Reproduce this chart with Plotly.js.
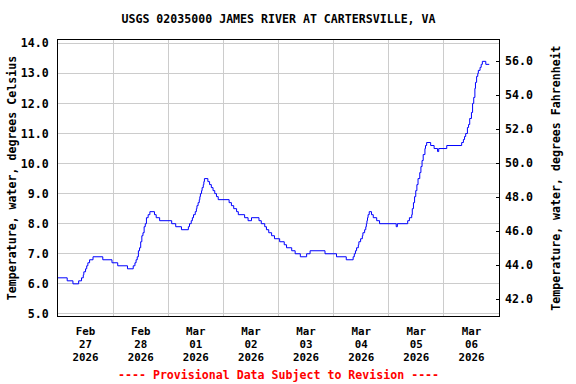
<!DOCTYPE html>
<html>
<head>
<meta charset="utf-8">
<script src="https://cdn.plot.ly/plotly-3.0.1.min.js"></script>
<style>
  html, body { margin: 0; padding: 0; background: #ffffff; }
  #chart { width: 576px; height: 384px; }
</style>
</head>
<body>
<div id="chart"></div>
<script>
// ---- Data ----
const chartTitle = "USGS 02035000 JAMES RIVER AT CARTERSVILLE, VA";
const leftAxisTitle = "Temperature, water, degrees Celsius";
const rightAxisTitle = "Temperature, water, degrees Fahrenheit";
const footerText = "---- Provisional Data Subject to Revision ----";

const times = [
  "2026-02-27 00:00","2026-02-27 04:00","2026-02-27 06:30","2026-02-27 09:00","2026-02-27 10:15",
  "2026-02-27 11:00","2026-02-27 11:15","2026-02-27 12:00","2026-02-27 12:30","2026-02-27 13:00",
  "2026-02-27 13:45","2026-02-27 15:15","2026-02-27 19:30","2026-02-27 23:30",
  "2026-02-28 02:00","2026-02-28 06:15","2026-02-28 08:45","2026-02-28 09:30","2026-02-28 10:00",
  "2026-02-28 10:30","2026-02-28 11:00","2026-02-28 11:30","2026-02-28 12:00","2026-02-28 12:30",
  "2026-02-28 13:00","2026-02-28 13:30","2026-02-28 14:00","2026-02-28 14:30","2026-02-28 15:15",
  "2026-02-28 16:00","2026-02-28 18:00","2026-02-28 18:45","2026-02-28 20:15",
  "2026-03-01 01:30","2026-03-01 03:15","2026-03-01 05:45","2026-03-01 08:45","2026-03-01 09:15",
  "2026-03-01 10:00","2026-03-01 10:30","2026-03-01 11:00","2026-03-01 11:45","2026-03-01 12:15",
  "2026-03-01 12:30","2026-03-01 13:00","2026-03-01 13:30","2026-03-01 13:45","2026-03-01 14:00",
  "2026-03-01 14:30","2026-03-01 14:45","2026-03-01 15:15","2026-03-01 15:30","2026-03-01 15:45",
  "2026-03-01 17:15","2026-03-01 18:00","2026-03-01 18:45","2026-03-01 19:30","2026-03-01 20:15",
  "2026-03-01 21:00","2026-03-01 21:45",
  "2026-03-02 02:30","2026-03-02 03:30","2026-03-02 04:30","2026-03-02 05:45","2026-03-02 06:30",
  "2026-03-02 09:15","2026-03-02 10:45","2026-03-02 12:15","2026-03-02 15:30","2026-03-02 16:30",
  "2026-03-02 18:00","2026-03-02 18:45","2026-03-02 19:45","2026-03-02 21:00","2026-03-02 22:15",
  "2026-03-03 00:30","2026-03-03 02:30","2026-03-03 03:30","2026-03-03 05:45","2026-03-03 07:15",
  "2026-03-03 09:30","2026-03-03 12:15","2026-03-03 13:45","2026-03-03 20:15",
  "2026-03-04 01:15","2026-03-04 05:30","2026-03-04 08:30","2026-03-04 09:00","2026-03-04 09:30",
  "2026-03-04 10:00","2026-03-04 10:45","2026-03-04 11:00","2026-03-04 11:45","2026-03-04 12:30",
  "2026-03-04 12:45","2026-03-04 13:30","2026-03-04 14:00","2026-03-04 14:15","2026-03-04 14:30",
  "2026-03-04 14:45","2026-03-04 15:00","2026-03-04 15:30","2026-03-04 16:30","2026-03-04 17:15",
  "2026-03-04 18:45","2026-03-04 20:00",
  "2026-03-05 03:15","2026-03-05 03:45","2026-03-05 08:15","2026-03-05 09:00","2026-03-05 10:00",
  "2026-03-05 10:15","2026-03-05 10:45","2026-03-05 11:15","2026-03-05 11:45","2026-03-05 12:15",
  "2026-03-05 12:45","2026-03-05 13:30","2026-03-05 14:00","2026-03-05 14:30","2026-03-05 15:00",
  "2026-03-05 15:45","2026-03-05 16:00","2026-03-05 16:30","2026-03-05 18:15","2026-03-05 19:45",
  "2026-03-05 21:15","2026-03-05 21:45",
  "2026-03-06 01:15","2026-03-06 07:45","2026-03-06 08:30","2026-03-06 09:00","2026-03-06 09:30",
  "2026-03-06 10:15","2026-03-06 10:45","2026-03-06 11:15","2026-03-06 12:00","2026-03-06 12:30",
  "2026-03-06 13:00","2026-03-06 13:30","2026-03-06 13:45","2026-03-06 14:15","2026-03-06 14:45",
  "2026-03-06 15:00","2026-03-06 15:45","2026-03-06 16:15","2026-03-06 16:45","2026-03-06 18:15",
  "2026-03-06 19:45"
];

const tempC = [
  6.2,6.1,6.0,6.1,6.2,
  6.3,6.4,6.5,6.6,6.7,
  6.8,6.9,6.8,6.7,
  6.6,6.5,6.6,6.7,6.8,
  6.9,7.1,7.2,7.4,7.6,
  7.7,7.9,8.0,8.2,8.3,
  8.4,8.3,8.2,8.1,
  8.0,7.9,7.8,7.9,8.0,
  8.1,8.2,8.3,8.4,8.5,
  8.6,8.7,8.8,8.9,9.0,
  9.1,9.2,9.3,9.4,9.5,
  9.4,9.3,9.2,9.1,9.0,
  8.9,8.8,
  8.7,8.6,8.5,8.4,8.3,
  8.2,8.1,8.2,8.1,8.0,
  7.9,7.8,7.7,7.6,7.5,
  7.4,7.3,7.2,7.1,7.0,
  6.9,7.0,7.1,7.0,
  6.9,6.8,6.9,7.0,7.1,
  7.2,7.3,7.4,7.5,7.6,
  7.7,7.8,7.9,8.0,8.1,
  8.2,8.3,8.4,8.3,8.2,
  8.1,8.0,
  7.9,8.0,8.1,8.2,8.3,
  8.5,8.7,8.9,9.1,9.3,
  9.5,9.7,9.9,10.1,10.3,
  10.5,10.6,10.7,10.6,10.5,
  10.4,10.5,
  10.6,10.7,10.8,10.9,11.0,
  11.2,11.3,11.5,11.7,12.0,
  12.2,12.5,12.7,12.9,13.0,
  13.1,13.2,13.3,13.4,13.3,
  13.3
];

// x axis: labels at noon of each day, grid at midnight
const dayNoon = ["2026-02-27 12:00","2026-02-28 12:00","2026-03-01 12:00","2026-03-02 12:00",
                 "2026-03-03 12:00","2026-03-04 12:00","2026-03-05 12:00","2026-03-06 12:00"];
const monthLabels = ["Feb","Feb","Mar","Mar","Mar","Mar","Mar","Mar"];
const dayLabels   = ["27","28","01","02","03","04","05","06"];
const yearLabels  = ["2026","2026","2026","2026","2026","2026","2026","2026"];
const xRange = ["2026-02-27 00:00","2026-03-07 00:00"];

const celsiusTicks = [5,6,7,8,9,10,11,12,13,14];
const celsiusRange = [4.93, 14.11];
const fahrenheitTicks = [42,44,46,48,50,52,54,56];
const fahrenheitRange = [41.0, 57.26];

// ---- Chart ----
const FONT = {family: "DejaVu Sans Mono", size: 11.6, color: "#000000", weight: "bold"};
const XFONT = {family: "DejaVu Sans Mono", size: 10.8, color: "#000000", weight: "bold"};
const tempF = tempC.map(c => c * 1.8 + 32);

const mainTrace = {
  x: times, y: tempC, type: "scatter", mode: "lines",
  line: {color: "#0000ff", width: 1, shape: "hv"},
  xaxis: "x", yaxis: "y", hoverinfo: "skip", showlegend: false
};
// invisible companions so the extra label axes and the Fahrenheit axis are drawn
const ghost = (xa, ya, yv) => ({
  x: times, y: yv, type: "scatter", mode: "lines", opacity: 0,
  line: {color: "rgba(0,0,0,0)", width: 0}, xaxis: xa, yaxis: ya,
  hoverinfo: "skip", showlegend: false
});

const baseX = {
  type: "date", range: xRange, tickmode: "array", tickvals: dayNoon,
  ticks: "", showgrid: false, zeroline: false, tickfont: XFONT, tickangle: 0,
  fixedrange: true
};

const layout = {
  width: 576, height: 384,
  margin: {l: 58, r: 77, t: 40, b: 68, pad: 0},
  paper_bgcolor: "#ffffff", plot_bgcolor: "#ffffff",
  showlegend: false,
  font: FONT,
  title: {
    text: chartTitle, font: FONT,
    x: 0.5, xref: "paper", xanchor: "center",
    y: 1 - 19/384, yref: "container", yanchor: "middle"
  },
  xaxis: Object.assign({}, baseX, {
    ticktext: monthLabels,
    showline: true, linecolor: "#000000", linewidth: 1, mirror: true,
    minor: {dtick: 86400000, tick0: "2026-02-27", showgrid: true, gridcolor: "#cccccc", gridwidth: 1, ticks: ""},
    anchor: "y", ticklabelstandoff: 5
  }),
  xaxis2: Object.assign({}, baseX, {
    ticktext: dayLabels, overlaying: "x", anchor: "y", side: "bottom",
    showline: false, ticklabelstandoff: 20
  }),
  xaxis3: Object.assign({}, baseX, {
    ticktext: yearLabels, overlaying: "x", anchor: "y", side: "bottom",
    showline: false, ticklabelstandoff: 33
  }),
  yaxis: {
    range: celsiusRange, tickmode: "array", tickvals: celsiusTicks,
    tickformat: ".1f", ticks: "", showgrid: true, gridcolor: "#cccccc", gridwidth: 1,
    zeroline: false, showline: true, linecolor: "#000000", linewidth: 1, mirror: true,
    tickfont: FONT, ticklabelstandoff: 6, fixedrange: true,
    title: {text: leftAxisTitle, font: FONT, standoff: 1}
  },
  yaxis2: {
    range: fahrenheitRange, overlaying: "y", side: "right", anchor: "x",
    tickmode: "array", tickvals: fahrenheitTicks, tickformat: ".1f",
    ticks: "inside", ticklen: 3, tickcolor: "#000000", tickwidth: 1,
    showgrid: false, zeroline: false, showline: false,
    tickfont: FONT, ticklabelstandoff: 5, fixedrange: true,
    title: {text: rightAxisTitle, font: FONT, standoff: 19}
  },
  annotations: [{
    text: footerText, xref: "paper", yref: "paper", x: 0.5, y: -(375-316)/276,
    xanchor: "center", yanchor: "middle", showarrow: false,
    font: {family: "DejaVu Sans Mono", size: 11.6, color: "#ff0000", weight: "bold"}
  }]
};

Plotly.newPlot("chart",
  [ghost("x2", "y", tempC), ghost("x3", "y", tempC), ghost("x", "y2", tempF), mainTrace],
  layout, {staticPlot: true, displayModeBar: false});
</script>
</body>
</html>
